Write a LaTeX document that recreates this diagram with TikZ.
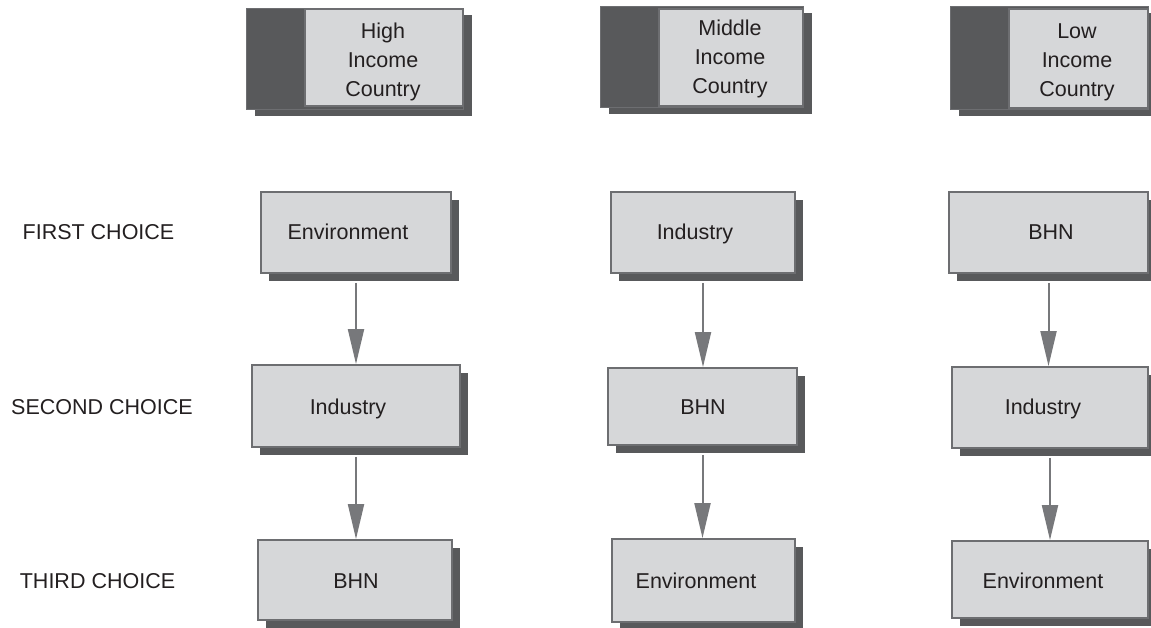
\documentclass[tikz,border=0pt]{standalone}
\usepackage{fontspec}
\setmainfont{Liberation Sans}
\usetikzlibrary{arrows.meta,shadows,fit}

\definecolor{boxfill}{HTML}{D6D7D9}
\definecolor{edge}{HTML}{6D6E71}
\definecolor{shade}{HTML}{58595B}
\definecolor{flowgray}{HTML}{77787B}
\definecolor{ink}{HTML}{231F20}

\begin{document}
\begin{tikzpicture}[x=1pt,y=-1pt,
  every node/.style={font=\fontsize{21.5}{29}\selectfont, text=ink},
  choicebox/.style={draw=edge, line width=1.8pt, fill=boxfill, inner sep=0pt,
    general shadow={fill=shade, shadow xshift=8pt, shadow yshift=-8pt}},
  hdrdark/.style={draw=edge, line width=1pt, fill=shade, inner sep=0pt,
    general shadow={fill=shade, shadow xshift=9pt, shadow yshift=-6pt}},
  hdrlight/.style={draw=edge, line width=1.8pt, fill=boxfill, inner sep=0pt},
  hdrtext/.style={align=center, inner sep=0pt},
  boxtext/.style={inner sep=0pt, text height=15.5pt, text depth=4.5pt},
  rowlabel/.style={inner sep=0pt, text height=15.5pt, text depth=4.5pt},
  flow/.style={draw=flowgray, line width=2pt,
    -{Triangle[width=16pt,length=35pt,fill=flowgray]}}
]
\useasboundingbox (0,0) rectangle (1151,628);

% column headers
\node[hdrdark, fit={(246,9)(463,110)}] (hd1) {};
\node[hdrlight, fit={(305,9)(463,106)}] (hl1) {};
\node[hdrtext] (ht1) at (383,62) {High\\Income\\Country};

\node[hdrdark, fit={(600,7)(803,108)}] (hd2) {};
\node[hdrlight, fit={(659,9)(803,106)}] (hl2) {};
\node[hdrtext] (ht2) at (730,59) {Middle\\Income\\Country};

\node[hdrdark, fit={(950,7)(1148,110)}] (hd3) {};
\node[hdrlight, fit={(1009,9)(1148,108)}] (hl3) {};
\node[hdrtext] (ht3) at (1077,62) {Low\\Income\\Country};

% row labels
\node[rowlabel] (r1) at (98.5,234) {FIRST CHOICE};
\node[rowlabel] (r2) at (102,409) {SECOND CHOICE};
\node[rowlabel] (r3) at (97.5,583) {THIRD CHOICE};

% high income column
\node[choicebox, fit={(261,192)(451,273)}] (a1) {};
\node[boxtext] (a1t) at (348,234) {Environment};
\node[choicebox, fit={(252,365)(460,447)}] (a2) {};
\node[boxtext] (a2t) at (348,409) {Industry};
\node[choicebox, fit={(258,540)(452,620)}] (a3) {};
\node[boxtext] (a3t) at (356,583) {BHN};

% middle income column
\node[choicebox, fit={(611,192)(795,273)}] (b1) {};
\node[boxtext] (b1t) at (695,234) {Industry};
\node[choicebox, fit={(608,368)(797,445)}] (b2) {};
\node[boxtext] (b2t) at (703,409) {BHN};
\node[choicebox, fit={(612,539)(795,622)}] (b3) {};
\node[boxtext] (b3t) at (696,583) {Environment};

% low income column
\node[choicebox, fit={(949,192)(1148,273)}] (c1) {};
\node[boxtext] (c1t) at (1051,234) {BHN};
\node[choicebox, fit={(952,367)(1148,448)}] (c2) {};
\node[boxtext] (c2t) at (1043,409) {Industry};
\node[choicebox, fit={(952,541)(1148,618)}] (c3) {};
\node[boxtext] (c3t) at (1043,583) {Environment};

% ranking arrows
\draw[flow] ([yshift=-9pt]a1.south) -- (a1.south |- a2.north);
\draw[flow] ([yshift=-9pt]a2.south) -- (a2.south |- a3.north);
\draw[flow] ([yshift=-9pt]b1.south) -- (b1.south |- b2.north);
\draw[flow] ([yshift=-9pt]b2.south) -- (b2.south |- b3.north);
\draw[flow] ([yshift=-9pt]c1.south) -- (c1.south |- c2.north);
\draw[flow] ([yshift=-9pt]c2.south) -- (c2.south |- c3.north);
\end{tikzpicture}
\end{document}
